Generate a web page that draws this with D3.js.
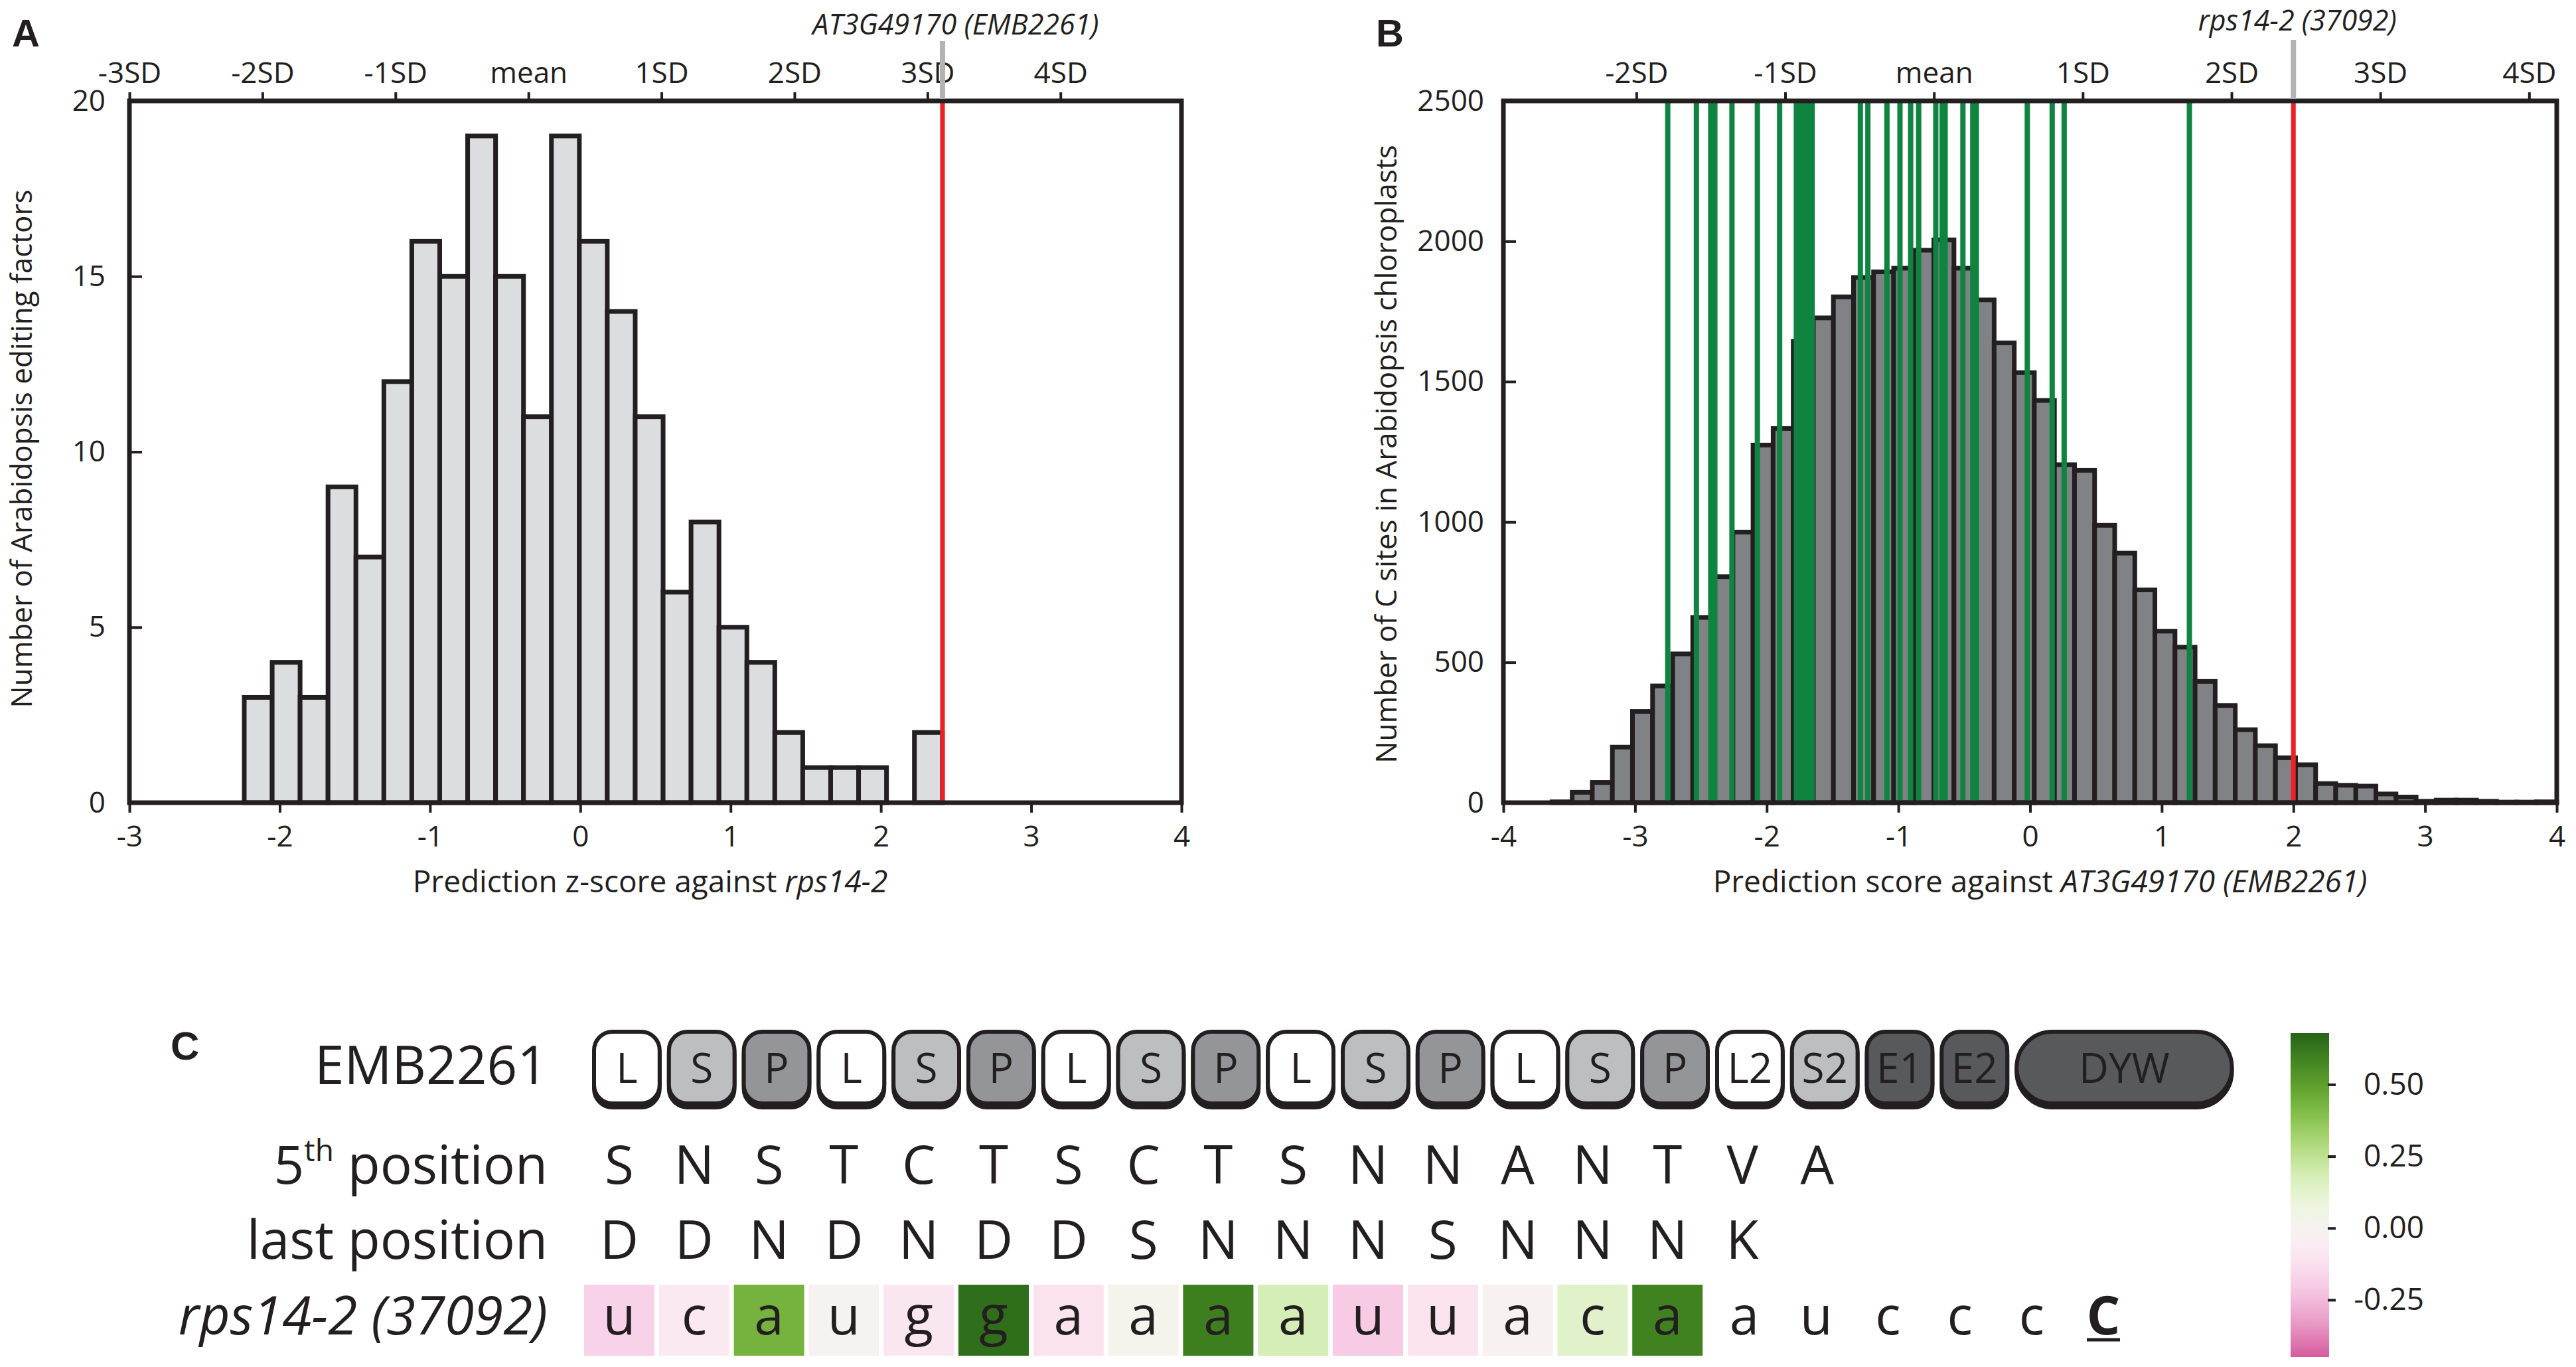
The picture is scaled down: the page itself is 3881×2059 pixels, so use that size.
<!DOCTYPE html>
<html>
<head>
<meta charset="utf-8">
<script src="https://cdn.jsdelivr.net/npm/d3@7"></script>
<style>
  body { margin: 0; background: #fff; }
  text { font-family: "Open Sans", "DejaVu Sans", sans-serif; fill: #231f20; }
</style>
</head>
<body>
<script>
// ---- panel A: z-scores of editing factors against rps14-2
const aBinStart = -2.236, aBinWidth = 0.1858;
const aCounts = [3, 4, 3, 9, 7, 12, 16, 15, 19, 15, 11, 19, 16, 14, 11, 6, 8, 5, 4, 2, 1, 1, 1, 0, 2];
const aTarget = 2.41;              // AT3G49170 (EMB2261)
const aMean = -0.345, aSD = 0.885;
const aSDTicks = [-3, -2, -1, 0, 1, 2, 3, 4];
const aXTicks = [-3, -2, -1, 0, 1, 2, 3, 4];
const aYTicks = [0, 5, 10, 15, 20];

// ---- panel B: scores of chloroplast C sites against EMB2261
const bBinStart = -3.63, bBinWidth = 0.1526;
const bCounts = [3, 37, 72, 198, 325, 416, 530, 660, 805, 964,
                 1274, 1333, 1643, 1727, 1802, 1871, 1891, 1904, 1968, 2005,
                 1904, 1791, 1638, 1532, 1433, 1204, 1184, 988, 889, 758,
                 611, 554, 432, 346, 260, 203, 160, 135, 68, 62,
                 59, 31, 20, 5, 9, 9, 5, 2, 2, 3];
const bSites = [-2.752, -2.534, -2.425, -2.394, -2.264, -2.071, -1.902,
                -1.775, -1.745, -1.715, -1.685, -1.655,
                -1.289, -1.232, -1.087, -0.988, -0.907, -0.846, -0.716, -0.668, -0.645,
                -0.510, -0.435, -0.408, -0.021, 0.168, 0.259, 1.210];
const bTarget = 2.0;               // rps14-2 (37092)
const bMean = -0.73, bSD = 1.13;
const bSDTicks = [-2, -1, 0, 1, 2, 3, 4];
const bXTicks = [-4, -3, -2, -1, 0, 1, 2, 3, 4];
const bYTicks = [0, 500, 1000, 1500, 2000, 2500];

// ---- panel C
const domains = ["L", "S", "P", "L", "S", "P", "L", "S", "P", "L", "S", "P", "L", "S", "P", "L2", "S2", "E1", "E2", "DYW"];
const fifthPos = ["S", "N", "S", "T", "C", "T", "S", "C", "T", "S", "N", "N", "A", "N", "T", "V", "A"];
const lastPos = ["D", "D", "N", "D", "N", "D", "D", "S", "N", "N", "N", "S", "N", "N", "N", "K"];
const targetSeq = ["u", "c", "a", "u", "g", "g", "a", "a", "a", "a", "u", "u", "a", "c", "a", "a", "u", "c", "c", "c", "C"];
const seqScores = [-0.177, -0.08, 0.435, -0.015, -0.095, 0.65, -0.11, 0.015, 0.60, 0.18, -0.20, -0.11, -0.02, 0.135, 0.59];
const cbTicks = [0.5, 0.25, 0, -0.25];
const cbRange = [-0.449, 0.679];

const ink = "#231f20";
const plotTop = 152, plotBottom = 1209;
const tickFont = 44;

const svg = d3.select("body").append("svg")
    .attr("width", 3881).attr("height", 2059);

function styleAxis(sel, size) {
    sel.attr("font-family", null).attr("font-size", null);
    sel.select(".domain").remove();
    sel.selectAll(".tick line").attr("stroke", ink).attr("stroke-width", 4);
    sel.selectAll(".tick text").style("font-size", size + "px").attr("fill", ink);
}

function histPanel(cfg) {
    const g = svg.append("g");
    const x = d3.scaleLinear().domain(cfg.xDomain).range([cfg.left, cfg.right]);
    const y = d3.scaleLinear().domain([0, cfg.yMax]).range([plotBottom, plotTop]);
    const bins = cfg.counts.map((c, i) => ({
        x0: cfg.binStart + i * cfg.binWidth,
        x1: cfg.binStart + (i + 1) * cfg.binWidth,
        c: c
    }));

    g.selectAll("rect.bar").data(bins.filter(d => d.c > 0)).join("rect")
        .attr("class", "bar")
        .attr("x", d => x(d.x0))
        .attr("width", d => x(d.x1) - x(d.x0))
        .attr("y", d => y(d.c))
        .attr("height", d => y(0) - y(d.c))
        .attr("fill", cfg.fill)
        .attr("stroke", ink)
        .attr("stroke-width", 7);

    if (cfg.sites) {
        g.selectAll("line.site").data(cfg.sites).join("line")
            .attr("class", "site")
            .attr("x1", d => x(d)).attr("x2", d => x(d))
            .attr("y1", plotTop).attr("y2", plotBottom)
            .attr("stroke", "#0f8441").attr("stroke-width", 8);
    }

    g.append("line")
        .attr("x1", x(cfg.target)).attr("x2", x(cfg.target))
        .attr("y1", plotTop).attr("y2", plotBottom)
        .attr("stroke", "#ed2024").attr("stroke-width", 7);

    g.append("rect")
        .attr("x", cfg.left).attr("y", plotTop)
        .attr("width", cfg.right - cfg.left).attr("height", plotBottom - plotTop)
        .attr("fill", "none").attr("stroke", ink).attr("stroke-width", 7);

    g.append("g").attr("transform", `translate(0,${plotBottom})`)
        .call(d3.axisBottom(x).tickValues(cfg.xTicks).tickFormat(d => String(d)).tickSize(15).tickPadding(20))
        .call(styleAxis, tickFont);

    g.append("g").attr("transform", `translate(${cfg.left},0)`)
        .call(d3.axisLeft(y).tickValues(cfg.yTicks).tickFormat(d => String(d)).tickSizeInner(-19).tickSizeOuter(0).tickPadding(cfg.yPad))
        .call(styleAxis, tickFont);

    const sdPos = cfg.sdTicks.map(k => cfg.mean + k * cfg.sd);
    g.append("g").attr("transform", `translate(0,${plotTop})`)
        .call(d3.axisTop(x).tickValues(sdPos)
            .tickFormat((d, i) => cfg.sdTicks[i] === 0 ? "mean" : cfg.sdTicks[i] + "SD")
            .tickSize(13).tickPadding(14))
        .call(styleAxis, tickFont);

    // marker of the chosen factor / site above the plot
    g.append("line")
        .attr("x1", x(cfg.target)).attr("x2", x(cfg.target))
        .attr("y1", cfg.markerTop).attr("y2", plotTop - 3)
        .attr("stroke", "#b3b3b3").attr("stroke-width", 8);
    g.append("text")
        .attr("x", x(cfg.target) + cfg.markerDx).attr("y", cfg.markerY)
        .attr("text-anchor", "middle")
        .style("font-size", "43px").style("font-style", "italic")
        .text(cfg.markerLabel);

    const xt = g.append("text")
        .attr("x", (cfg.left + cfg.right) / 2 + cfg.titleDx).attr("y", 1344)
        .attr("text-anchor", "middle").style("font-size", "46px");
    xt.append("tspan").text(cfg.xTitle[0]);
    xt.append("tspan").style("font-style", "italic").text(cfg.xTitle[1]);

    g.append("text")
        .attr("transform", `translate(${cfg.yTitleX},${cfg.yTitleY}) rotate(-90)`)
        .attr("text-anchor", "middle").style("font-size", "44px")
        .text(cfg.yTitle);

    g.append("text")
        .attr("x", cfg.letterX).attr("y", 70)
        .style("font-family", "'Liberation Sans', Arial, sans-serif")
        .style("font-weight", "bold").style("font-size", "58px")
        .text(cfg.letter);
}

histPanel({
    letter: "A", letterX: 18,
    left: 195, right: 1780, xDomain: [-3, 4], yMax: 20,
    counts: aCounts, binStart: aBinStart, binWidth: aBinWidth,
    fill: "#dcdddf", target: aTarget,
    mean: aMean, sd: aSD, sdTicks: aSDTicks,
    xTicks: aXTicks, yTicks: aYTicks, yPad: 36,
    markerTop: 62, markerY: 52, markerDx: 20, markerLabel: "AT3G49170 (EMB2261)",
    xTitle: ["Prediction z-score against ", "rps14-2"], titleDx: -8,
    yTitle: "Number of Arabidopsis editing factors", yTitleX: 48, yTitleY: 676
});

histPanel({
    letter: "B", letterX: 2073,
    left: 2265, right: 3852, xDomain: [-4, 4], yMax: 2500,
    counts: bCounts, binStart: bBinStart, binWidth: bBinWidth,
    fill: "#808285", target: bTarget, sites: bSites,
    mean: bMean, sd: bSD, sdTicks: bSDTicks,
    xTicks: bXTicks, yTicks: bYTicks, yPad: 29,
    markerTop: 60, markerY: 46, markerDx: 6, markerLabel: "rps14-2 (37092)",
    xTitle: ["Prediction score against ", "AT3G49170 (EMB2261)"], titleDx: 15,
    yTitle: "Number of C sites in Arabidopsis chloroplasts", yTitleX: 2104, yTitleY: 684
});

// ---- panel C
const c = svg.append("g");
const slot = d3.scaleLinear().domain([0, 1]).range([880, 992.8]);
const tail = d3.scaleLinear().domain([15, 20]).range([2628, 3169]);
const labelX = 825;
const rowFont = 80;

c.append("text").attr("x", 257).attr("y", 1596)
    .style("font-family", "'Liberation Sans', Arial, sans-serif")
    .style("font-weight", "bold").style("font-size", "60px").text("C");

// row labels
c.append("text").attr("x", labelX).attr("y", 1633).attr("text-anchor", "end")
    .style("font-size", rowFont + "px").text("EMB2261");
const fifthLabel = c.append("text").attr("x", labelX).attr("y", 1783).attr("text-anchor", "end")
    .style("font-size", rowFont + "px");
fifthLabel.append("tspan").text("5");
fifthLabel.append("tspan").attr("dy", -34).style("font-size", "46px").text("th");
fifthLabel.append("tspan").attr("dy", 34).text(" position");
c.append("text").attr("x", labelX).attr("y", 1896).attr("text-anchor", "end")
    .style("font-size", rowFont + "px").text("last position");
c.append("text").attr("x", labelX).attr("y", 2010).attr("text-anchor", "end")
    .style("font-size", rowFont + "px").style("font-style", "italic").text("rps14-2 (37092)");

// protein motifs
const domainFill = { L: "#ffffff", S: "#bcbec0", P: "#939598", E: "#58595b", D: "#58595b" };
let pos = 0;
const motifs = domains.map(name => {
    const span = name === "DYW" ? 3 : 1;
    const m = { name: name, start: pos, span: span, fill: domainFill[name[0]] };
    pos += span;
    return m;
});
const boxY = 1554, boxH = 108;
const mg = c.selectAll("g.motif").data(motifs).join("g").attr("class", "motif");
mg.append("rect")
    .attr("x", d => slot(d.start) + 15).attr("y", boxY + 6)
    .attr("width", d => slot(d.start + d.span) - slot(d.start) - 14).attr("height", boxH)
    .attr("rx", d => d.span > 1 ? 54 : 28).attr("ry", d => d.span > 1 ? 54 : 28)
    .attr("fill", ink).attr("stroke", ink).attr("stroke-width", 6);
mg.append("rect")
    .attr("x", d => slot(d.start) + 15).attr("y", boxY)
    .attr("width", d => slot(d.start + d.span) - slot(d.start) - 14).attr("height", boxH)
    .attr("rx", d => d.span > 1 ? 54 : 28).attr("ry", d => d.span > 1 ? 54 : 28)
    .attr("fill", d => d.fill).attr("stroke", ink).attr("stroke-width", 6);
mg.append("text")
    .attr("x", d => (slot(d.start) + slot(d.start + d.span)) / 2 + 8).attr("y", 1631)
    .attr("text-anchor", "middle").style("font-size", "62px")
    .text(d => d.name);

// 5th and last residues of each motif
c.selectAll("text.fifth").data(fifthPos).join("text").attr("class", "fifth")
    .attr("x", (d, i) => slot(i) + 53).attr("y", 1783)
    .attr("text-anchor", "middle").style("font-size", rowFont + "px").text(d => d);
c.selectAll("text.last").data(lastPos).join("text").attr("class", "last")
    .attr("x", (d, i) => slot(i) + 53).attr("y", 1896)
    .attr("text-anchor", "middle").style("font-size", rowFont + "px").text(d => d);

// target sequence with per-position scores
const vAbs = d3.max(cbRange.map(Math.abs));
const color = d3.scaleDiverging(d3.interpolatePiYG).domain([-vAbs, 0, vAbs]);
c.selectAll("rect.cell").data(seqScores).join("rect").attr("class", "cell")
    .attr("x", (d, i) => slot(i)).attr("y", 1935)
    .attr("width", 106).attr("height", 107)
    .attr("fill", d => color(d));
const seqX = i => i < seqScores.length ? slot(i) + 53 : tail(i);
c.selectAll("text.nt").data(targetSeq).join("text").attr("class", "nt")
    .attr("x", (d, i) => seqX(i)).attr("y", 2010)
    .attr("text-anchor", "middle").style("font-size", rowFont + "px")
    .style("font-weight", (d, i) => i === targetSeq.length - 1 ? "bold" : null)
    .text(d => d);
const lastX = seqX(targetSeq.length - 1);
c.append("line").attr("x1", lastX - 25).attr("x2", lastX + 25)
    .attr("y1", 2018).attr("y2", 2018).attr("stroke", ink).attr("stroke-width", 5);

// colour bar
const cbY = d3.scaleLinear().domain(cbRange).range([2044, 1556]);
const grad = svg.append("defs").append("linearGradient")
    .attr("id", "cbgrad").attr("x1", 0).attr("x2", 0).attr("y1", 1).attr("y2", 0);
grad.selectAll("stop").data(d3.range(0, 1.0001, 0.05)).join("stop")
    .attr("offset", t => t)
    .attr("stop-color", t => color(cbRange[0] + t * (cbRange[1] - cbRange[0])));
c.append("rect").attr("x", 3451).attr("y", cbY(cbRange[1]))
    .attr("width", 58).attr("height", cbY(cbRange[0]) - cbY(cbRange[1]))
    .attr("fill", "url(#cbgrad)");
const cbAxis = c.append("g").attr("transform", "translate(3507,0)")
    .call(d3.axisRight(cbY).tickValues(cbTicks)
        .tickFormat(d => d3.format(".2f")(d).replace("\u2212", "-"))
        .tickSize(12).tickPadding(40))
    .call(styleAxis, 46);
cbAxis.selectAll(".tick text").attr("text-anchor", "end").attr("x", 145);
</script>
</body>
</html>
